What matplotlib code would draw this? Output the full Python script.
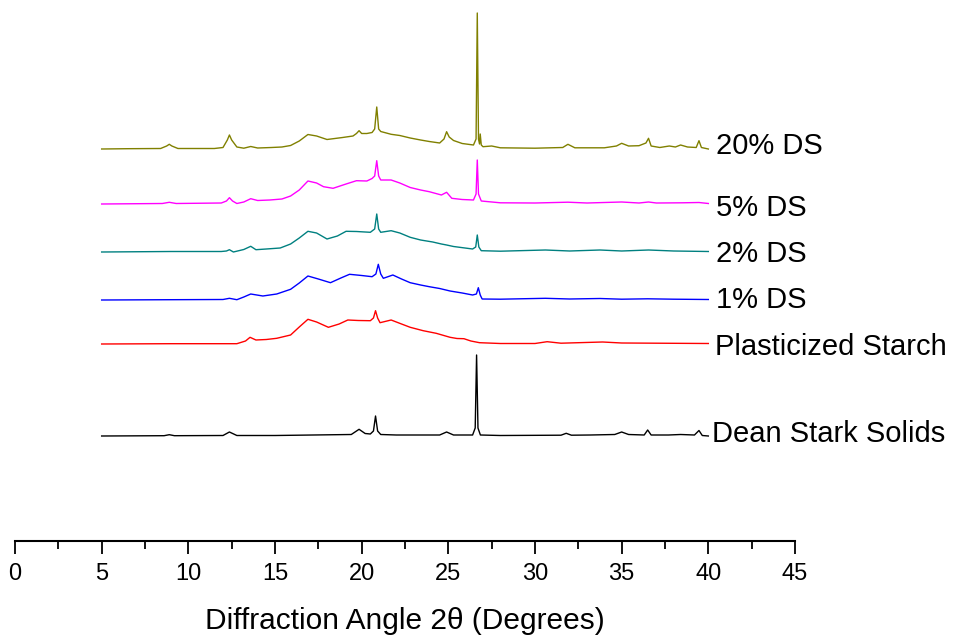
import matplotlib
matplotlib.use("Agg")
import matplotlib.pyplot as plt
from matplotlib.ticker import MultipleLocator

plt.rcParams['font.family'] = ['Liberation Sans', 'DejaVu Sans']

# XRD patterns: diffraction angle (2theta, degrees) and intensity above each trace's baseline (a.u.)
dss_angle = [5.0, 8.6, 8.9, 9.2, 12.0, 12.37, 12.8, 15.0, 19.4, 19.85, 20.2, 20.5, 20.68, 20.8, 20.92,
             21.1, 22.0, 24.5, 24.9, 25.3, 26.4, 26.55, 26.63, 26.71, 26.85, 28.0, 31.5, 31.8, 32.1,
             33.2, 34.6, 35.0, 35.4, 36.3, 36.5, 36.7, 37.7, 38.4, 39.2, 39.46, 39.65, 40.0]
dss_int = [0, 0.3, 1.3, 0.3, 0.5, 4, 0.5, 0.5, 1.5, 6.7, 2.5, 2, 5, 20, 5,
           1.5, 1, 1, 4, 1, 1, 8, 81, 8, 1, 0.5, 0.8, 2.7, 0.8,
           1, 1.5, 4, 1.5, 1, 6, 1, 1, 1.5, 1, 5.5, 0.5, 0]

ps_angle = [5.0, 9.0, 12.8, 13.3, 13.56, 13.9, 14.5, 15.1, 15.9, 16.4, 16.9, 17.4, 18.08, 18.7, 19.2,
            19.8, 20.5, 20.68, 20.8, 20.92, 21.06, 21.7, 22.3, 22.8, 23.55, 24.3, 25.1, 25.5, 25.9,
            26.3, 26.8, 28.0, 30.0, 30.7, 31.5, 33.9, 35.0, 37.0, 40.0]
ps_int = [0, 0.3, 0.3, 3, 6.7, 4, 4.5, 5.7, 9, 17, 24.7, 22, 16.7, 20, 24,
          23.5, 23.3, 26, 33.3, 26, 21.3, 24, 20, 16.7, 13.3, 10.7, 6.7, 5.5, 5.3,
          3, 1.3, 0.5, 0.5, 2.3, 0.8, 2, 1, 0.8, 0.5]

ds1_angle = [5.0, 9.0, 12.0, 12.37, 12.8, 13.2, 13.6, 14.3, 15.1, 15.9, 16.4, 16.9, 17.5, 18.2, 18.8,
             19.3, 20.0, 20.6, 20.82, 20.96, 21.1, 21.25, 21.8, 22.3, 22.8, 23.4, 23.9, 24.5, 25.1,
             25.8, 26.4, 26.62, 26.73, 26.84, 26.95, 28.0, 30.6, 32.0, 33.75, 35.0, 36.5, 38.0, 40.0]
ds1_int = [0, 0.3, 0.5, 1.7, 0.3, 3, 6, 4, 6, 10.7, 17, 24, 21, 17.3, 22,
           25.7, 24.5, 23.3, 26, 35.7, 26, 21.7, 25, 21, 17.3, 15, 13.3, 11.5, 9,
           7, 5, 6, 12.3, 5, 1, 0.8, 1.7, 1, 1.5, 0.8, 1.2, 0.8, 0.5]

ds2_angle = [5.0, 9.0, 11.9, 12.2, 12.37, 12.6, 13.2, 13.6, 13.9, 14.5, 15.3, 15.9, 16.4, 16.9, 17.4,
             18.0, 18.6, 19.1, 19.7, 20.5, 20.75, 20.87, 20.98, 21.1, 21.7, 22.2, 22.8, 23.4, 24.1,
             24.6, 24.9, 25.3, 26.4, 26.58, 26.67, 26.76, 26.9, 28.0, 30.6, 32.0, 33.75, 35.0,
             36.55, 38.0, 40.0]
ds2_int = [0, 0.5, 0.5, 1, 2.3, 0, 2.5, 5.7, 2.3, 3, 4, 8, 14, 20.7, 19,
           13, 16, 20.7, 20.5, 19.7, 23, 38, 23, 19.7, 21.3, 19, 14.7, 12, 10,
           8, 7, 5.5, 3, 5, 17, 5, 1.3, 0.8, 2, 1, 2, 1,
           2, 1, 0.5]

ds5_angle = [5.0, 8.5, 8.9, 9.3, 11.9, 12.2, 12.37, 12.55, 12.8, 13.2, 13.6, 14.0, 14.7, 15.4, 15.9,
             16.4, 16.9, 17.4, 17.8, 18.35, 19.1, 19.7, 20.3, 20.6, 20.75, 20.87, 20.98, 21.1, 21.7,
             22.2, 22.8, 23.4, 23.9, 24.6, 24.9, 25.2, 25.8, 26.45, 26.6, 26.67, 26.74, 26.9, 28.0,
             30.0, 31.9, 33.0, 35.0, 36.0, 36.55, 37.0, 38.5, 39.46, 40.0]
ds5_int = [0, 0.5, 1.7, 0.5, 1, 3, 6.3, 3, 0.5, 2, 5.3, 3.5, 4, 5, 8,
           14, 23, 21, 17.3, 15.7, 20, 23.3, 23, 25.5, 28, 43.3, 28, 24, 24,
           21, 16.5, 14, 12.3, 9, 11.7, 5.7, 4.5, 4, 10, 44, 10, 3, 1.2,
           1, 1.8, 1, 2, 1, 2, 1, 1.2, 1.5, 0.5]

ds20_angle = [5.0, 6.5, 8.4, 8.75, 8.9, 9.05, 9.4, 11.5, 12.0, 12.25, 12.37, 12.5, 12.8, 13.2, 13.6,
              14.0, 14.8, 15.4, 15.9, 16.4, 16.9, 17.4, 18.0, 18.9, 19.5, 19.7, 19.85, 20.0, 20.3,
              20.6, 20.75, 20.87, 20.98, 21.1, 21.7, 22.2, 22.8, 23.4, 23.9, 24.5, 24.75, 24.9, 25.05,
              25.3, 25.8, 26.45, 26.6, 26.67, 26.74, 26.8, 26.84, 26.9, 27.0, 27.5, 28.0, 30.0, 31.6,
              31.9, 32.3, 34.0, 34.7, 35.0, 35.4, 36.0, 36.4, 36.55, 36.7, 37.2, 37.75, 38.1, 38.4,
              38.8, 39.3, 39.46, 39.6, 40.0]
ds20_int = [0, 0.3, 0.5, 3, 4.7, 3, 0.5, 0.5, 1.5, 9, 14, 9, 2, 0.8, 2.5,
            1, 1.5, 2, 3.5, 8, 14.5, 13, 9.5, 11.5, 13, 15.5, 18.3, 15.5, 15.5,
            16.5, 20, 42, 20, 17.5, 14.7, 13.5, 11, 9, 7.5, 6, 10, 17.3, 12,
            8.5, 5.5, 4, 10, 136, 10, 5, 15, 4, 2.3, 3, 1.2, 0.8, 1.5,
            4.7, 1.2, 1.2, 3, 5.7, 3, 3.3, 6, 10.7, 3, 1.5, 3, 2, 4,
            2, 1.5, 8.3, 1.5, 0]

sample_labels = ["Dean Stark Solids", "Plasticized Starch", "1% DS", "2% DS", "5% DS", "20% DS"]
sample_angles = [dss_angle, ps_angle, ds1_angle, ds2_angle, ds5_angle, ds20_angle]
sample_ints = [dss_int, ps_int, ds1_int, ds2_int, ds5_int, ds20_int]

# vertical stacking of the patterns and label placement
offsets = [105, 197, 241, 289, 337, 392]
label_y = [107, 194, 241, 287, 333, 395]
label_x = [40.2, 40.4, 40.45, 40.45, 40.45, 40.45]
colors = ["#000000", "#ff0000", "#0000ff", "#008080", "#ff00ff", "#808000"]

fig = plt.figure(figsize=(9.54, 6.37), dpi=100)
ax = fig.add_axes([15 / 954, (637 - 541) / 637, 780 / 954, 541 / 637])

for ang, inten, off, col in zip(sample_angles, sample_ints, offsets, colors):
    ax.plot(ang, [off + v for v in inten], color=col, lw=1.0, clip_on=False)

for lab, lx, ly in zip(sample_labels, label_x, label_y):
    ax.text(lx, ly, lab, fontsize=21, va='center', ha='left', clip_on=False)

ax.set_xlim(0, 45)
ax.set_ylim(0, 541)
for side in ("left", "right", "top"):
    ax.spines[side].set_visible(False)
ax.spines["bottom"].set_linewidth(1.5)
ax.set_yticks([])
ax.xaxis.set_major_locator(MultipleLocator(5))
ax.xaxis.set_minor_locator(MultipleLocator(2.5))
ax.tick_params(axis='x', which='major', direction='out', length=9, width=1.3,
               labelsize=17, pad=7)
ax.tick_params(axis='x', which='minor', direction='out', length=5.5, width=1.3)
ax.set_xlabel("Diffraction Angle 2θ (Degrees)", fontsize=21.5, labelpad=16)
ax.patch.set_visible(False)

fig.savefig("out.png", dpi=100)
